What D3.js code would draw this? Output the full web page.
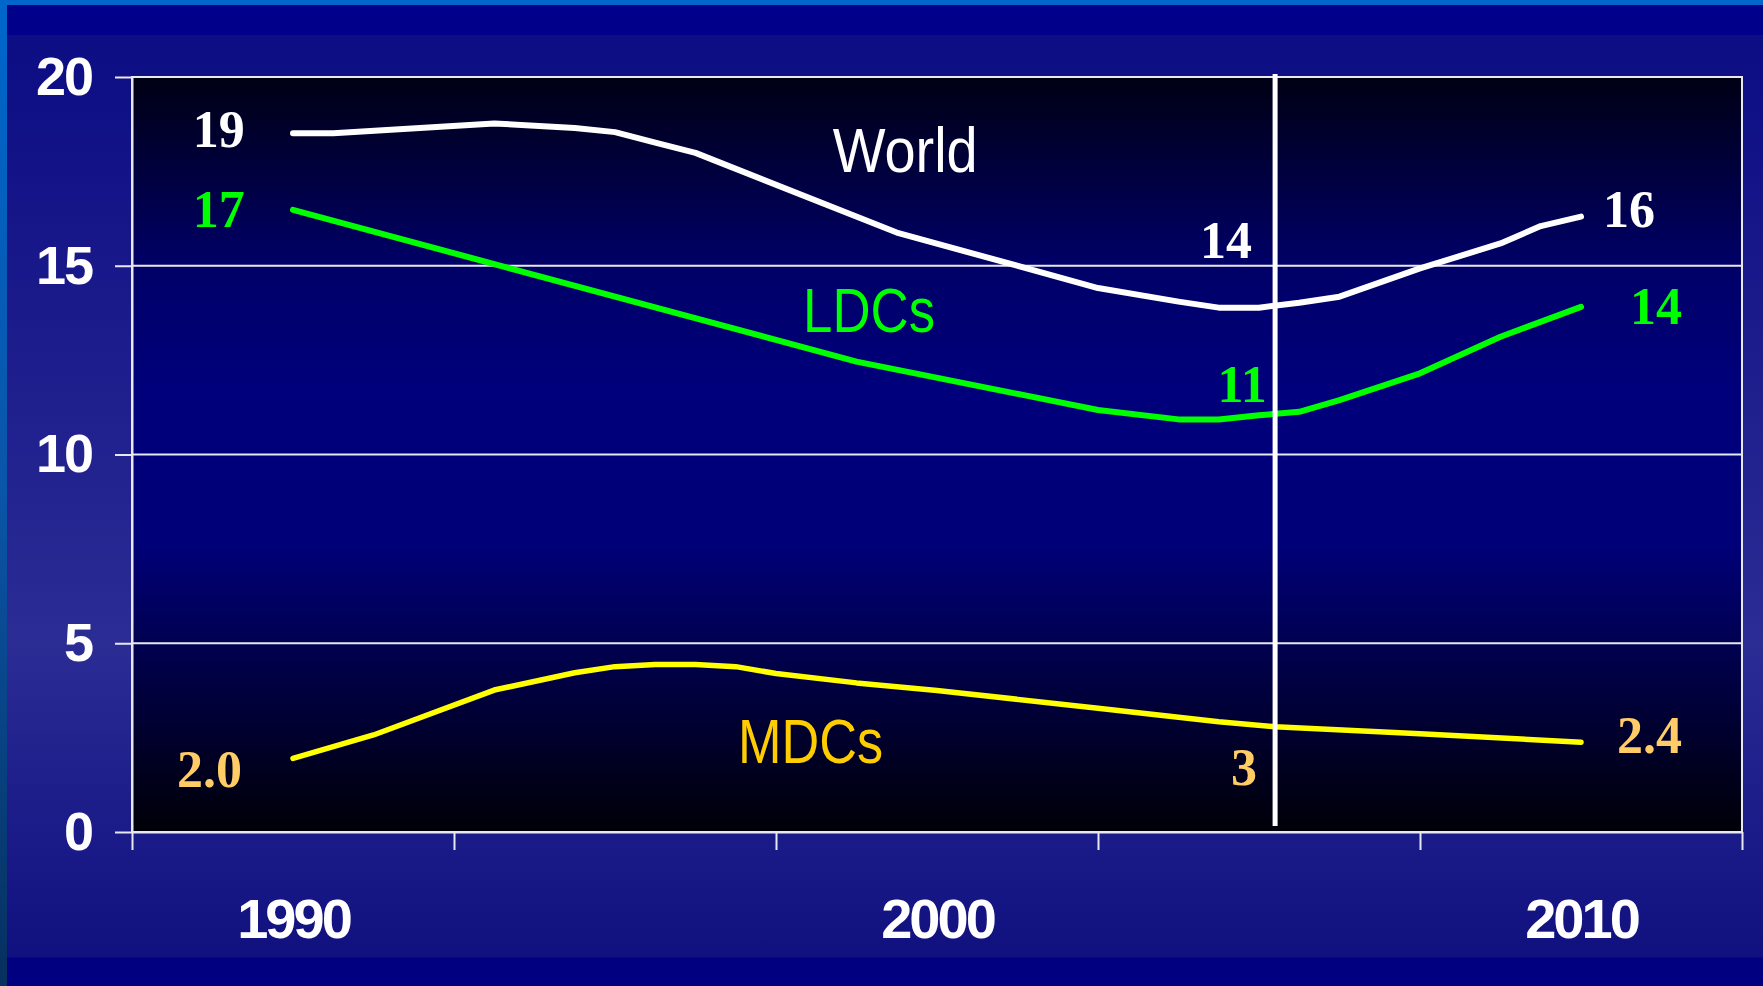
<!DOCTYPE html>
<head>
  <meta charset="utf-8">
  <script src="https://d3js.org/d3.v7.min.js"></script>
  <style>
    body { margin:0; background:#000080; overflow:hidden; }
    svg { display:block; }
    .yaxis text, .xlabels text { font-family:"Liberation Sans", Arial, sans-serif; font-weight:bold; fill:white; }
  </style>
</head>

<body>
  <script>
    var width = 1763;
    var height = 986;

    // values, [year, value]
    var world = [
      [1990, 18.51], [1990.625, 18.51], [1993.125, 18.77], [1994.375, 18.65],
      [1995, 18.54], [1995.625, 18.26], [1996.25, 17.99], [1999.375, 15.88],
      [2002.5, 14.41], [2003.75, 14.05], [2004.375, 13.89], [2005, 13.89],
      [2005.625, 14.02], [2006.25, 14.18], [2007.5, 14.93], [2008.75, 15.59],
      [2009.375, 16.05], [2010, 16.30]
    ];
    var ldcs = [
      [1990, 16.48], [1998.75, 12.46], [2002.5, 11.18], [2003.75, 10.93],
      [2004.375, 10.93], [2005, 11.04], [2005.625, 11.13], [2006.25, 11.44],
      [2007.5, 12.15], [2008.75, 13.12], [2010, 13.91]
    ];
    var mdcs = [
      [1990, 1.95], [1990.625, 2.26], [1991.25, 2.57], [1993.125, 3.76],
      [1994.375, 4.22], [1995, 4.38], [1995.625, 4.44], [1996.25, 4.44],
      [1996.875, 4.38], [1997.5, 4.20], [1998.75, 3.95], [2000, 3.75],
      [2002.5, 3.28], [2004.375, 2.92], [2005.25, 2.79], [2007.5, 2.60],
      [2010, 2.38]
    ];

    var yTicks = [0, 5, 10, 15, 20];
    var gridValues = [5, 10, 15];
    var xTicks = [1987.5, 1992.5, 1997.5, 2002.5, 2007.5, 2012.5];
    var xLabels = [1990, 2000, 2010];
    var markerYear = 2005.25;

    // annotation texts, placed in data units
    var numberLabels = [
      { text: "19",  year: 1989.25, val: 18.15, color: "white",   anchor: "end" },
      { text: "17",  year: 1989.25, val: 16.03, color: "#00ff00", anchor: "end" },
      { text: "2.0", year: 1989.21, val: 1.19,  color: "#ffcc66", anchor: "end" },
      { text: "16",  year: 2010.34, val: 16.03, color: "white",   anchor: "start" },
      { text: "14",  year: 2010.76, val: 13.46, color: "#00ff00", anchor: "start" },
      { text: "2.4", year: 2010.56, val: 2.09,  color: "#ffcc66", anchor: "start" },
      { text: "14",  year: 2004.89, val: 15.21, color: "white",   anchor: "end" },
      { text: "11",  year: 2005.12, val: 11.39, color: "#00ff00", anchor: "end" },
      { text: "3",   year: 2004.97, val: 1.25,  color: "#ffcc66", anchor: "end" }
    ];
    var seriesLabels = [
      { text: "World", year: 1998.38, val: 17.48, color: "white",   len: 145 },
      { text: "LDCs",  year: 1997.92, val: 13.25, color: "#00ff00", len: 132 },
      { text: "MDCs",  year: 1996.91, val: 1.83,  color: "#ffcc00", len: 145 }
    ];

    var svg = d3.select("body").append("svg")
      .attr("width", width)
      .attr("height", height);

    var defs = svg.append("defs");

    var bg = defs.append("linearGradient").attr("id", "bg")
      .attr("x1", 0).attr("y1", 0).attr("x2", 0).attr("y2", 1);
    [[0, "#00008a"], [0.03, "#00008a"], [0.031, "#0d0d84"], [0.35, "#1c1c8c"],
     [0.65, "#2c2c95"], [0.85, "#1a1a88"], [0.97, "#10107e"], [0.972, "#000080"], [1, "#000080"]]
      .forEach(function(s){ bg.append("stop").attr("offset", s[0]).attr("stop-color", s[1]); });

    var edge = defs.append("linearGradient").attr("id", "edge")
      .attr("x1", 0).attr("y1", 0).attr("x2", 0).attr("y2", 1);
    [[0, "#0066cc"], [0.5, "#0a55a8"], [1, "#06305e"]]
      .forEach(function(s){ edge.append("stop").attr("offset", s[0]).attr("stop-color", s[1]); });

    var plotbg = defs.append("linearGradient").attr("id", "plotbg")
      .attr("x1", 0).attr("y1", 0).attr("x2", 0).attr("y2", 1);
    [[0, "#000014"], [0.25, "#000068"], [0.42, "#00007c"], [0.62, "#000078"], [0.78, "#000048"], [1, "#000008"]]
      .forEach(function(s){ plotbg.append("stop").attr("offset", s[0]).attr("stop-color", s[1]); });

    svg.append("rect").attr("width", width).attr("height", height).attr("fill", "#0066cc");
    svg.append("rect").attr("x", 0).attr("y", 0).attr("width", 7).attr("height", height).attr("fill", "url(#edge)");
    svg.append("rect").attr("x", 7).attr("y", 5).attr("width", width - 7).attr("height", height - 5).attr("fill", "url(#bg)");

    var x = d3.scaleLinear().domain([1987.5, 2012.5]).range([132, 1742]);
    var y = d3.scaleLinear().domain([0, 20]).range([832, 77]);

    // plot area
    svg.append("rect")
      .attr("x", x(1987.5)).attr("y", y(20))
      .attr("width", x(2012.5) - x(1987.5)).attr("height", y(0) - y(20))
      .attr("fill", "url(#plotbg)")
      .attr("stroke", "#e8e8f0").attr("stroke-width", 2);

    svg.append("g").selectAll("line")
      .data(gridValues).enter().append("line")
      .attr("x1", x(1987.5)).attr("x2", x(2012.5))
      .attr("y1", function(d){ return y(d); }).attr("y2", function(d){ return y(d); })
      .attr("stroke", "#e8e8f0").attr("stroke-width", 2);

    var yAxis = d3.axisLeft(y).tickValues(yTicks).tickSizeInner(17).tickSizeOuter(0).tickPadding(23);
    var yg = svg.append("g").attr("class", "yaxis")
      .attr("transform", "translate(" + x(1987.5) + ",0)")
      .call(yAxis);
    yg.selectAll("text").attr("font-size", 54).attr("letter-spacing", -2).attr("fill", "white");
    yg.selectAll("line, path").attr("stroke", "#e8e8f0").attr("stroke-width", 2);

    var xAxis = d3.axisBottom(x).tickValues(xTicks).tickSizeInner(18).tickSizeOuter(0).tickFormat("");
    var xg = svg.append("g")
      .attr("transform", "translate(0," + y(0) + ")")
      .call(xAxis);
    xg.selectAll("line, path").attr("stroke", "#e8e8f0").attr("stroke-width", 2);

    var xl = svg.append("g").attr("class", "xlabels")
      .attr("transform", "translate(0," + y(0) + ")")
      .call(d3.axisBottom(x).tickValues(xLabels).tickSize(0).tickPadding(66).tickFormat(d3.format("d")));
    xl.select(".domain").remove();
    xl.selectAll("text").attr("font-size", 56).attr("letter-spacing", -3).attr("fill", "white");

    // series lines
    var line = d3.line()
      .x(function(d){ return x(d[0]); })
      .y(function(d){ return y(d[1]); });

    var series = [
      { data: world, color: "white",   w: 6 },
      { data: ldcs,  color: "#00ff00", w: 6 },
      { data: mdcs,  color: "#ffff00", w: 5.5 }
    ];

    svg.append("g").selectAll("path")
      .data(series).enter().append("path")
      .attr("d", function(d){ return line(d.data); })
      .attr("fill", "none")
      .attr("stroke", function(d){ return d.color; })
      .attr("stroke-width", function(d){ return d.w; })
      .attr("stroke-linecap", "round")
      .attr("stroke-linejoin", "round");

    // vertical marker
    svg.append("line")
      .attr("x1", x(markerYear)).attr("x2", x(markerYear))
      .attr("y1", y(20) - 3).attr("y2", y(0) - 6)
      .attr("stroke", "white").attr("stroke-width", 5);

    svg.append("g").selectAll("text")
      .data(numberLabels).enter().append("text")
      .attr("x", function(d){ return x(d.year); })
      .attr("y", function(d){ return y(d.val); })
      .attr("text-anchor", function(d){ return d.anchor; })
      .attr("fill", function(d){ return d.color; })
      .attr("font-family", "'Liberation Serif', 'Times New Roman', serif")
      .attr("font-weight", "bold")
      .attr("font-size", 52)
      .text(function(d){ return d.text; });

    svg.append("g").selectAll("text")
      .data(seriesLabels).enter().append("text")
      .attr("x", function(d){ return x(d.year); })
      .attr("y", function(d){ return y(d.val); })
      .attr("fill", function(d){ return d.color; })
      .attr("font-family", "'Liberation Sans Narrow', 'Arial Narrow', 'Liberation Sans', sans-serif")
      .attr("font-size", 63)
      .attr("textLength", function(d){ return d.len; })
      .attr("lengthAdjust", "spacingAndGlyphs")
      .text(function(d){ return d.text; });
  </script>
</body>
